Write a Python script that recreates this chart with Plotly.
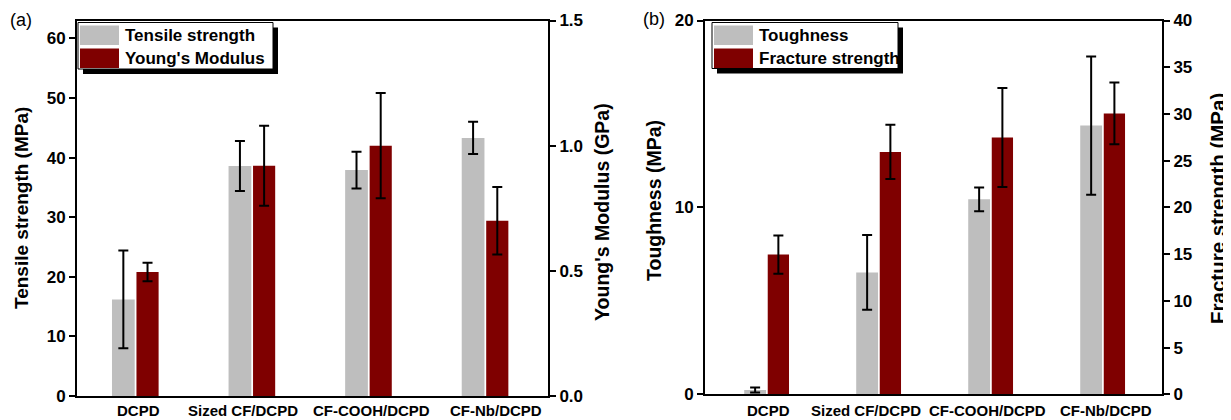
import plotly.graph_objects as go

# ---------------- data ----------------
categories = ["DCPD", "Sized CF/DCPD", "CF-COOH/DCPD", "CF-Nb/DCPD"]

tensile_strength = [16.2, 38.6, 37.9, 43.3]      # MPa
tensile_err = [8.2, 4.2, 3.1, 2.7]
youngs_modulus = [0.495, 0.92, 1.0, 0.70]         # GPa
youngs_err = [0.037, 0.16, 0.21, 0.135]

toughness = [0.23, 6.52, 10.43, 14.38]            # MPa
toughness_err = [0.13, 2.0, 0.63, 3.7]
fracture_strength = [14.95, 25.94, 27.48, 30.06]  # MPa
fracture_err = [2.05, 2.9, 5.3, 3.3]

left_ticks_a = [0, 10, 20, 30, 40, 50, 60]
right_ticks_a = [0.0, 0.5, 1.0, 1.5]
left_ticks_b = [0, 10, 20]
right_ticks_b = [0, 5, 10, 15, 20, 25, 30, 35, 40]

# ---------------- style ----------------
# the page body has an 8px default margin, so the figure is drawn 8px smaller
# and all window-pixel positions are shifted by that offset
OFF = 8
W, H = 1231 - OFF, 420 - OFF
GRAY = "#bebebe"
RED = "#7f0000"
FONT = "Arial, 'Liberation Sans', sans-serif"


def px(x):
    return (x - OFF) / W


def py(y):
    return 1 - (y - OFF) / H


xpos = list(range(len(categories)))
err_style = dict(type="data", color="black", thickness=2, width=5, visible=True)

fig = go.Figure()

# panel (a)
fig.add_trace(go.Bar(x=xpos, y=tensile_strength, name="Tensile strength",
                     marker=dict(color=GRAY, line=dict(width=0)),
                     offset=-0.2, width=0.195,
                     error_y=dict(array=tensile_err, **err_style),
                     xaxis="x", yaxis="y", showlegend=False))
fig.add_trace(go.Bar(x=xpos, y=youngs_modulus, name="Young's Modulus",
                     marker=dict(color=RED, line=dict(width=0)),
                     offset=0.01, width=0.19,
                     error_y=dict(array=youngs_err, **err_style),
                     xaxis="x", yaxis="y2", showlegend=False))
# panel (b)
fig.add_trace(go.Bar(x=xpos, y=toughness, name="Toughness",
                     marker=dict(color=GRAY, line=dict(width=0)),
                     offset=-0.2, width=0.195,
                     error_y=dict(array=toughness_err, **err_style),
                     xaxis="x2", yaxis="y3", showlegend=False))
fig.add_trace(go.Bar(x=xpos, y=fracture_strength, name="Fracture strength",
                     marker=dict(color=RED, line=dict(width=0)),
                     offset=0.01, width=0.19,
                     error_y=dict(array=fracture_err, **err_style),
                     xaxis="x2", yaxis="y4", showlegend=False))

tickfont = dict(family=FONT, size=17, color="black", weight="bold")
catfont = dict(family=FONT, size=15, color="black", weight="bold")

xcommon = dict(tickvals=xpos, ticktext=categories, showticklabels=False, ticks="",
               automargin=False,
               showline=True, linecolor="black", linewidth=2, mirror=True,
               showgrid=False, zeroline=False)
ycommon = dict(ticks="outside", ticklen=6, tickwidth=2, tickcolor="black",
               tickfont=tickfont, showline=True, linecolor="black", linewidth=2,
               automargin=False, showgrid=False, zeroline=False)

fig.update_layout(
    width=W, height=H,
    margin=dict(l=0, r=0, t=0, b=0, autoexpand=False),
    paper_bgcolor="white", plot_bgcolor="white",
    barmode="overlay",
    xaxis=dict(domain=[px(77), px(548)], range=[-0.5, 3.54], anchor="y", **xcommon),
    yaxis=dict(domain=[py(396), py(20.5)], range=[0, 63], tickvals=left_ticks_a,
               anchor="x", **ycommon),
    yaxis2=dict(range=[0, 1.5], tickvals=right_ticks_a, tickformat=".1f",
                overlaying="y", side="right", anchor="x", **ycommon),
    xaxis2=dict(domain=[px(705), px(1162)], range=[-0.55, 3.53], anchor="y3", **xcommon),
    yaxis3=dict(domain=[py(394.3), py(20.5)], range=[0, 20], tickvals=left_ticks_b,
                anchor="x2", **ycommon),
    yaxis4=dict(range=[0, 40], tickvals=right_ticks_b,
                overlaying="y3", side="right", anchor="x2", **ycommon),
)

shapes = []
annotations = []

# category labels, placed on each panel's category axis (slight offsets as in the original)
label_shift_a = [3, -9, 3, 11]
label_shift_b = [2, -13, -3, 3]
for xref, shifts, ycen in [("x", label_shift_a, 410.5), ("x2", label_shift_b, 410)]:
    for i, cat in enumerate(categories):
        annotations.append(dict(xref=xref, yref="paper", x=xpos[i], y=py(ycen),
                                xshift=shifts[i], text=cat, showarrow=False,
                                xanchor="center", yanchor="middle", font=catfont))


# ---------------- custom legends (large swatches with drop shadow) ----------------
def add_legend(x0, y0, x1, y1, entries):
    shapes.append(dict(type="rect", xref="paper", yref="paper", layer="above",
                       x0=px(x0 + 5), x1=px(x1 + 5), y0=py(y1 + 5), y1=py(y0 + 5),
                       fillcolor="black", line=dict(width=0)))
    shapes.append(dict(type="rect", xref="paper", yref="paper", layer="above",
                       x0=px(x0), x1=px(x1), y0=py(y1), y1=py(y0),
                       fillcolor="white", line=dict(color="black", width=1)))
    for i, (label, color) in enumerate(entries):
        top = y0 + 3 + i * 23
        shapes.append(dict(type="rect", xref="paper", yref="paper", layer="above",
                           x0=px(x0 + 2), x1=px(x0 + 41), y0=py(top + 19.5), y1=py(top),
                           fillcolor=color, line=dict(width=0)))
        annotations.append(dict(xref="paper", yref="paper", x=px(x0 + 45),
                                y=py(top + 10), text=label, showarrow=False,
                                xanchor="left", yanchor="middle",
                                font=dict(family=FONT, size=17, color="black",
                                          weight="bold")))


add_legend(78, 22.5, 273, 69, [("Tensile strength", GRAY), ("Young's Modulus", RED)])
add_legend(712, 22.5, 898, 68.5, [("Toughness", GRAY), ("Fracture strength", RED)])

# axis titles
titles = [
    ("Tensile strength (MPa)", 21, 208, 19),
    ("Young's Modulus (GPa)", 602, 212, 19.5),
    ("Toughness (MPa)", 654, 201, 19.5),
    ("Fracture strength (MPa)", 1217, 209, 20.5),
]
for text, x, y, size in titles:
    annotations.append(dict(xref="paper", yref="paper", x=px(x), y=py(y), text=text,
                            textangle=-90, showarrow=False, xanchor="center",
                            yanchor="middle",
                            font=dict(family=FONT, size=size, color="black",
                                      weight="bold")))

# panel labels
for text, x, y in [("(a)", 21, 20), ("(b)", 654, 19)]:
    annotations.append(dict(xref="paper", yref="paper", x=px(x), y=py(y), text=text,
                            showarrow=False, xanchor="center", yanchor="middle",
                            font=dict(family=FONT, size=18, color="black")))

fig.update_layout(shapes=shapes, annotations=annotations)

fig.write_html("out.html")
